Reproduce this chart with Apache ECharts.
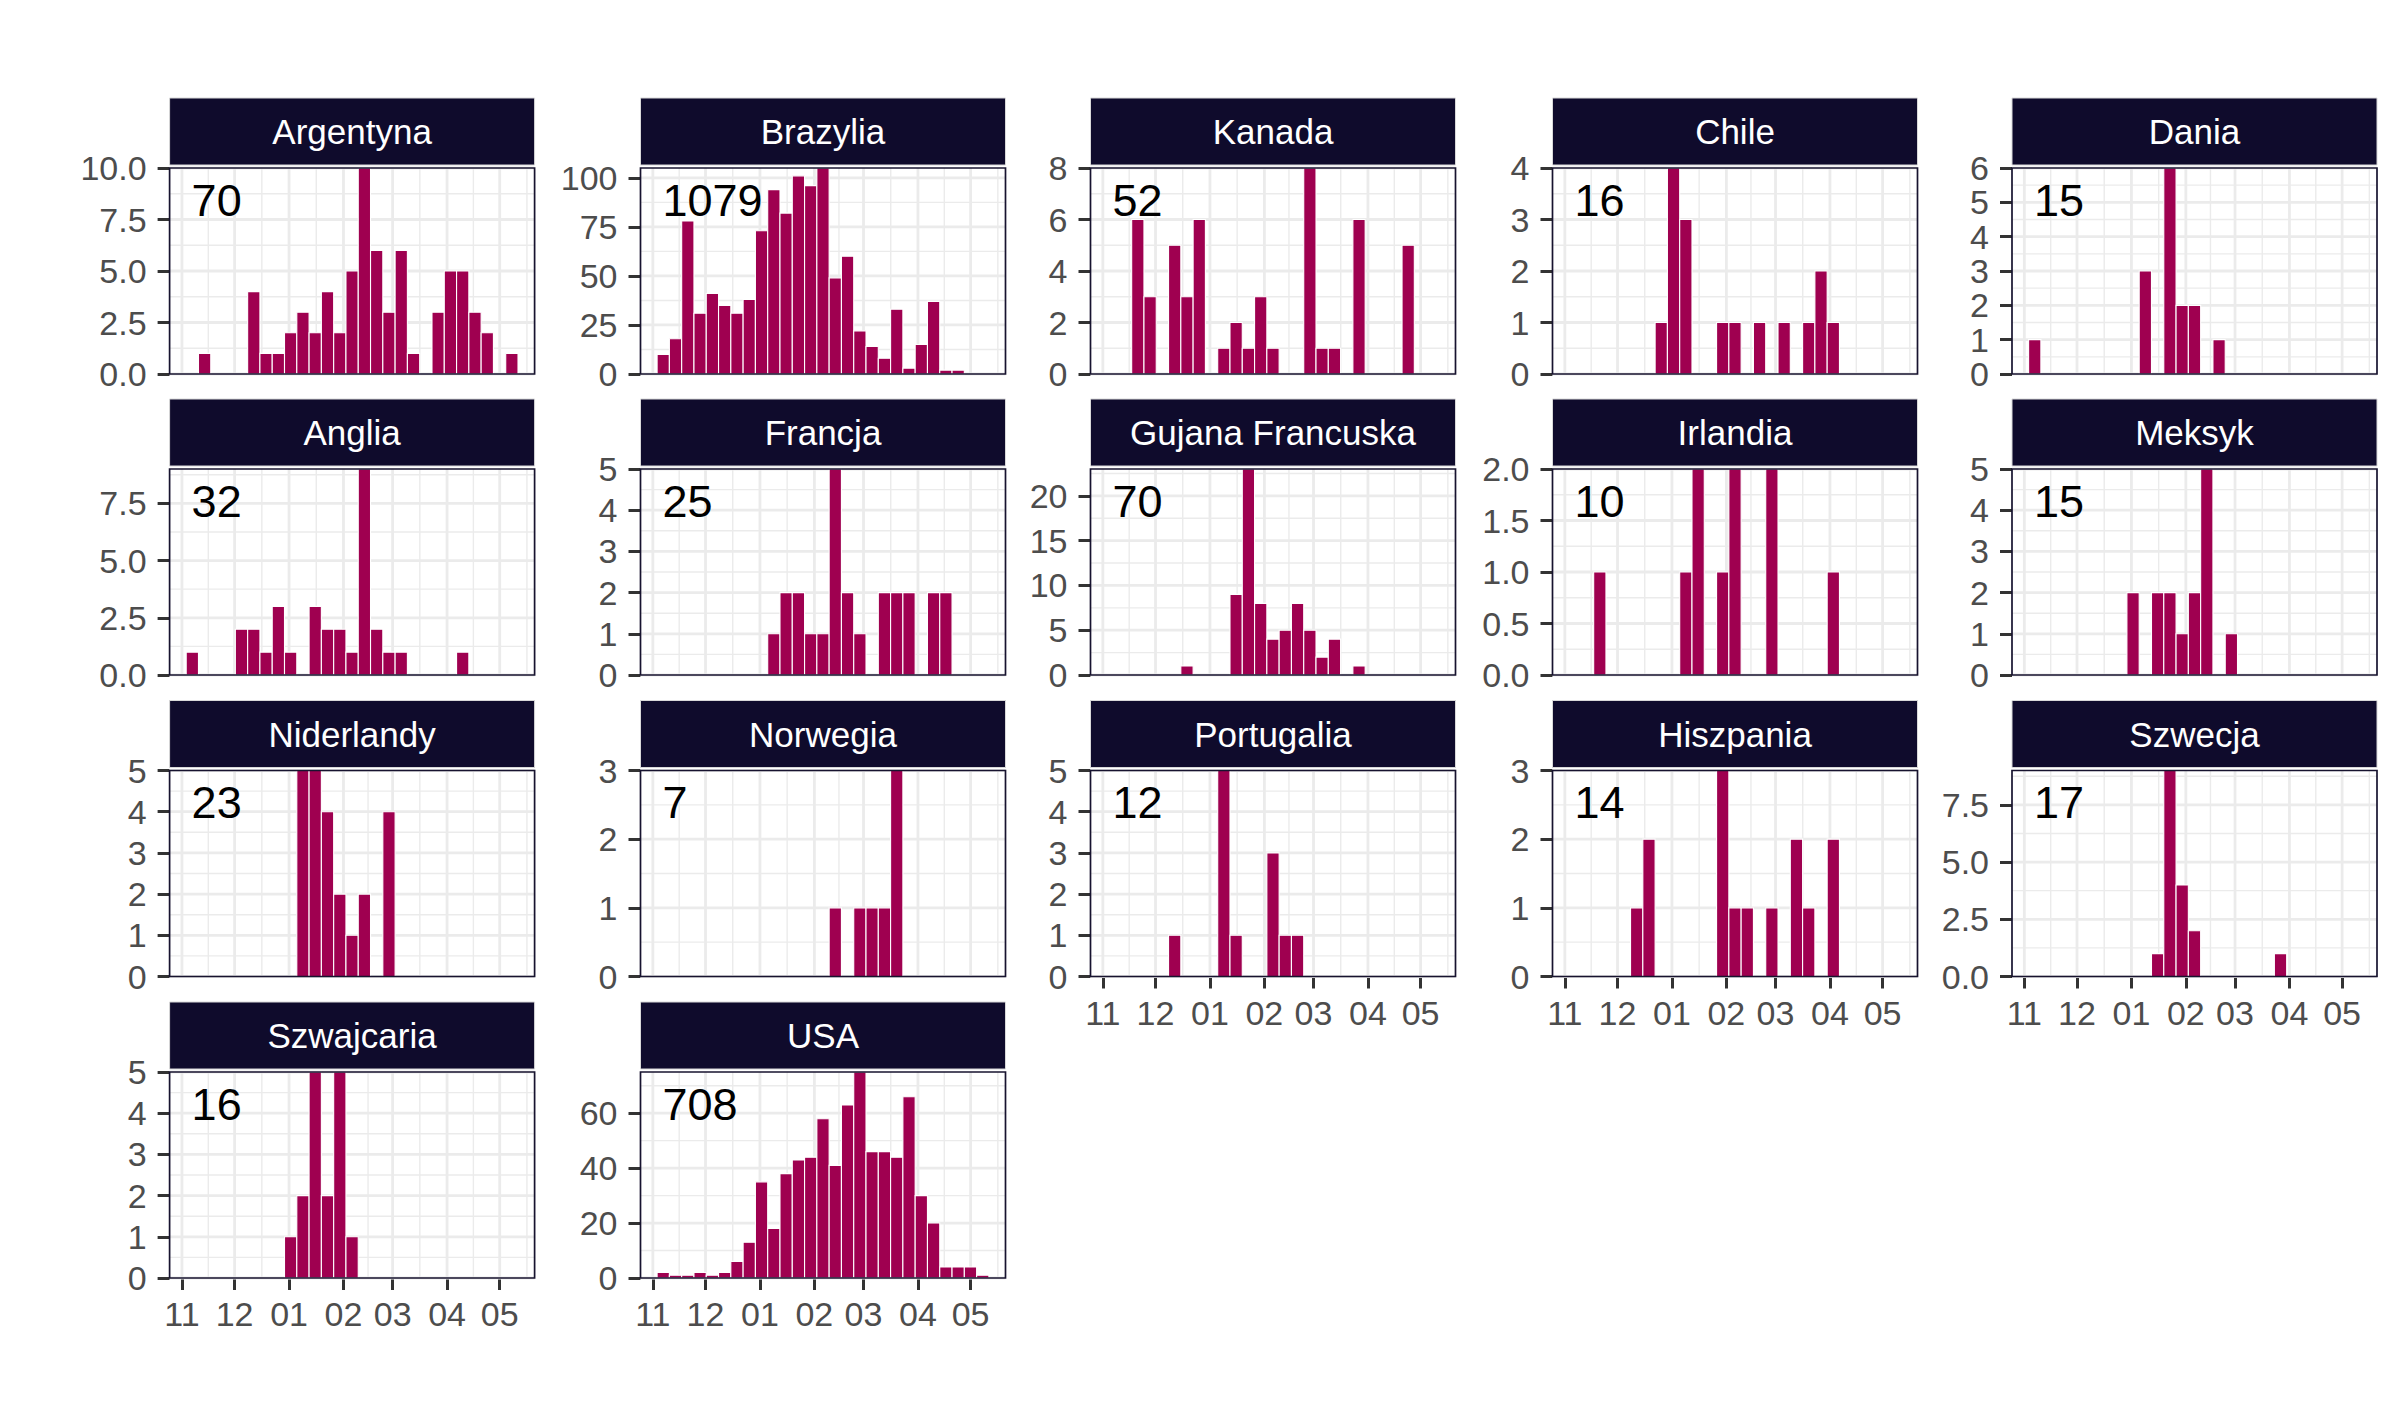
<!DOCTYPE html>
<html><head><meta charset="utf-8">
<script src="https://cdn.jsdelivr.net/npm/echarts@6/dist/echarts.min.js"></script>
<style>html,body{margin:0;padding:0;background:#fff}#c{width:2400px;height:1410px}</style>
</head><body><div id="c"></div>
<script>
// ---------------- DATA ----------------
const countries = ['Argentyna','Brazylia','Kanada','Chile','Dania',
  'Anglia','Francja','Gujana Francuska','Irlandia','Meksyk',
  'Niderlandy','Norwegia','Portugalia','Hiszpania','Szwecja',
  'Szwajcaria','USA'];
const totals = [70,1079,52,16,15,32,25,70,10,15,23,7,12,14,17,16,708];

// weekly counts, 27 bins starting at binStartDate
const argentyna  = [0,1,0,0,0,4,1,1,2,3,2,4,2,5,10,6,3,6,1,0,3,5,5,3,2,0,1];
const brazylia   = [10,18,78,31,41,35,31,38,73,94,82,101,96,105,49,60,22,14,8,33,3,15,37,2,2,0,0];
const kanada     = [0,0,6,3,0,5,3,6,0,1,2,1,3,1,0,0,8,1,1,0,6,0,0,0,5,0,0];
const chile      = [0,0,0,0,0,0,0,1,4,3,0,0,1,1,0,1,0,1,0,1,2,1,0,0,0,0,0];
const dania      = [1,0,0,0,0,0,0,0,0,3,0,6,2,2,0,1,0,0,0,0,0,0,0,0,0,0,0];
const anglia     = [1,0,0,0,2,2,1,3,1,0,3,2,2,1,9,2,1,1,0,0,0,0,1,0,0,0,0];
const francja    = [0,0,0,0,0,0,0,0,0,1,2,2,1,1,5,2,1,0,2,2,2,0,2,2,0,0,0];
const gujana     = [0,0,0,0,0,0,1,0,0,0,9,23,8,4,5,8,5,2,4,0,1,0,0,0,0,0,0];
const irlandia   = [0,0,1,0,0,0,0,0,0,1,2,0,1,2,0,0,2,0,0,0,0,1,0,0,0,0,0];
const meksyk     = [0,0,0,0,0,0,0,0,2,0,2,2,1,2,5,0,1,0,0,0,0,0,0,0,0,0,0];
const niderlandy = [0,0,0,0,0,0,0,0,0,5,5,4,2,1,2,0,4,0,0,0,0,0,0,0,0,0,0];
const norwegia   = [0,0,0,0,0,0,0,0,0,0,0,0,0,0,1,0,1,1,1,3,0,0,0,0,0,0,0];
const portugalia = [0,0,0,0,0,1,0,0,0,5,1,0,0,3,1,1,0,0,0,0,0,0,0,0,0,0,0];
const hiszpania  = [0,0,0,0,0,1,2,0,0,0,0,0,3,1,1,0,1,0,2,1,0,2,0,0,0,0,0];
const szwecja    = [0,0,0,0,0,0,0,0,0,0,1,9,4,2,0,0,0,0,0,0,1,0,0,0,0,0,0];
const szwajcaria = [0,0,0,0,0,0,0,0,1,2,5,2,5,1,0,0,0,0,0,0,0,0,0,0,0,0,0];
const usa        = [2,1,1,2,1,2,6,13,35,18,38,43,44,58,41,63,75,46,46,44,66,30,20,4,4,4,1];

const seriesValues = [argentyna,brazylia,kanada,chile,dania,anglia,francja,gujana,irlandia,meksyk,
  niderlandy,norwegia,portugalia,hiszpania,szwecja,szwajcaria,usa];

// y tick labels per panel
const yTicksList = [
  [0,2.5,5,7.5,10],[0,25,50,75,100],[0,2,4,6,8],[0,1,2,3,4],[0,1,2,3,4,5,6],
  [0,2.5,5,7.5],[0,1,2,3,4,5],[0,5,10,15,20],[0,0.5,1,1.5,2],[0,1,2,3,4,5],
  [0,1,2,3,4,5],[0,1,2,3],[0,1,2,3,4,5],[0,1,2,3],[0,2.5,5,7.5],
  [0,1,2,3,4,5],[0,20,40,60]
];
// x axis month breaks (tick labels are the month numbers)
const monthBreaks = ['2020-10-01','2020-11-01','2020-12-01','2021-01-01','2021-02-01',
  '2021-03-01','2021-04-01','2021-05-01','2021-06-01'];
const binStartDate = '2020-11-03T10:00:00';
const binWidthDays = 7;

// ---------------- STYLE / LAYOUT ----------------
const BAR = '#9F0050', STRIP = '#0F0B2C', FRAME = '#17132F', GRID = '#EBEBEB';
const FONT = 'Liberation Sans, Arial, Helvetica, sans-serif';
const colLeft = [169.6, 640.5, 1090.5, 1552.5, 2012];
const plotTop = [168, 469, 770.5, 1072];
const plotW = 365, plotH = 206;

const DAY = 86400000;
const binStart = new Date(binStartDate).getTime();
const nBins = argentyna.length;
const binEnd = binStart + nBins * binWidthDays * DAY;
const expand = 0.05 * (binEnd - binStart);
const xMin = binStart - expand, xMax = binEnd + expand;
const breaksTs = monthBreaks.map(s => new Date(s + 'T00:00:00').getTime());
const xMajor = breaksTs.filter(t => t >= xMin && t <= xMax);
const xMinor = [];
for (let i = 0; i + 1 < breaksTs.length; i++) {
  const m = (breaksTs[i] + breaksTs[i + 1]) / 2;
  if (m >= xMin && m <= xMax) xMinor.push(m);
}

const grids = [], xAxes = [], yAxes = [], series = [], graphics = [];
countries.forEach((name, i) => {
  const r = Math.floor(i / 5), c = i % 5;
  const counts = seriesValues[i];
  const yMax = Math.max(...counts);
  const ticks = yTicksList[i];
  const step = ticks[1] - ticks[0];
  const dec = ticks.some(t => Math.abs(t - Math.round(t)) > 1e-9) ? 1 : 0;
  const showX = i + 5 >= countries.length;
  const L = colLeft[c], T = plotTop[r];
  grids.push({left: L, top: T, width: plotW, height: plotH, containLabel: false});
  xAxes.push({
    type: 'value', gridIndex: i, min: xMin, max: xMax, scale: true,
    axisLine: {show: false}, splitLine: {show: false},
    axisTick: {show: showX, customValues: xMajor, length: 12, lineStyle: {color: '#333333', width: 3}},
    axisLabel: {show: showX, customValues: xMajor, margin: 19, color: '#4D4D4D', fontSize: 34, fontFamily: FONT,
      formatter: v => String(new Date(v).getMonth() + 1).padStart(2, '0')}
  });
  yAxes.push({
    type: 'value', gridIndex: i, min: 0, max: yMax, interval: step,
    axisLine: {show: false}, splitLine: {show: false},
    axisTick: {show: true, customValues: ticks, length: 12, lineStyle: {color: '#333333', width: 3}},
    axisLabel: {show: true, customValues: ticks, margin: 23, color: '#4D4D4D', fontSize: 34, fontFamily: FONT,
      formatter: v => Number(v).toFixed(dec)}
  });
  // grid lines
  const lines = [];
  xMinor.forEach(t => lines.push([t, 0, 0, 0]));
  xMajor.forEach(t => lines.push([t, 0, 0, 1]));
  const ext = ticks.concat([ticks[ticks.length - 1] + step]);
  for (let k = 0; k + 1 < ext.length; k++) {
    const m = (ext[k] + ext[k + 1]) / 2;
    if (m < yMax) lines.push([xMin, m, 1, 0]);
  }
  ticks.forEach(t => { if (t <= yMax) lines.push([xMin, t, 1, 1]); });
  series.push({
    type: 'custom', xAxisIndex: i, yAxisIndex: i, z: 1, silent: true, animation: false,
    data: lines,
    renderItem: (params, api) => {
      const cs = params.coordSys;
      const dir = api.value(2), major = api.value(3);
      const style = {stroke: GRID, lineWidth: major ? 2.8 : 1.4};
      if (dir === 0) {
        const x = api.coord([api.value(0), 0])[0];
        return {type: 'line', shape: {x1: x, y1: cs.y, x2: x, y2: cs.y + cs.height}, style};
      }
      const y = api.coord([xMin, api.value(1)])[1];
      return {type: 'line', shape: {x1: cs.x, y1: y, x2: cs.x + cs.width, y2: y}, style};
    }
  });
  // histogram bars
  series.push({
    type: 'custom', xAxisIndex: i, yAxisIndex: i, z: 2, silent: true, animation: false,
    data: counts.map((v, k) => [binStart + k * binWidthDays * DAY, binStart + (k + 1) * binWidthDays * DAY, v]),
    encode: {x: [0, 1], y: 2},
    renderItem: (params, api) => {
      const v = api.value(2);
      if (!v) return null;
      const p0 = api.coord([api.value(0), 0]);
      const p1 = api.coord([api.value(1), v]);
      return {type: 'rect', shape: {x: p0[0], y: p1[1], width: p1[0] - p0[0], height: p0[1] - p1[1]},
        style: {fill: BAR, stroke: '#ffffff', lineWidth: 1.1}};
    }
  });
  // panel frame
  series.push({
    type: 'custom', xAxisIndex: i, yAxisIndex: i, z: 3, silent: true, animation: false,
    data: [[xMin, 0]],
    renderItem: (params) => {
      const cs = params.coordSys;
      return {type: 'rect', shape: {x: cs.x, y: cs.y, width: cs.width, height: cs.height},
        style: {fill: 'none', stroke: FRAME, lineWidth: 1.7}};
    }
  });
  // strip
  graphics.push({type: 'rect', shape: {x: L, y: T - 70, width: plotW, height: 67},
    style: {fill: STRIP, stroke: '#d9d9d9', lineWidth: 1}, silent: true});
  graphics.push({type: 'text', x: L + plotW / 2, y: T - 36.5, silent: true,
    style: {text: name, fill: '#ffffff', fontSize: 35, fontFamily: FONT, align: 'center', verticalAlign: 'middle'}});
  // total annotation
  graphics.push({type: 'text', x: L + 22, y: T + 32, silent: true, z: 10,
    style: {text: String(totals[i]), fill: '#000000', fontSize: 45, fontFamily: FONT, align: 'left', verticalAlign: 'middle'}});
});

const chart = echarts.init(document.getElementById('c'), null, {renderer: 'svg'});
chart.setOption({
  backgroundColor: '#ffffff',
  animation: false,
  grid: grids, xAxis: xAxes, yAxis: yAxes, series: series,
  graphic: {elements: graphics}
});
</script></body></html>
